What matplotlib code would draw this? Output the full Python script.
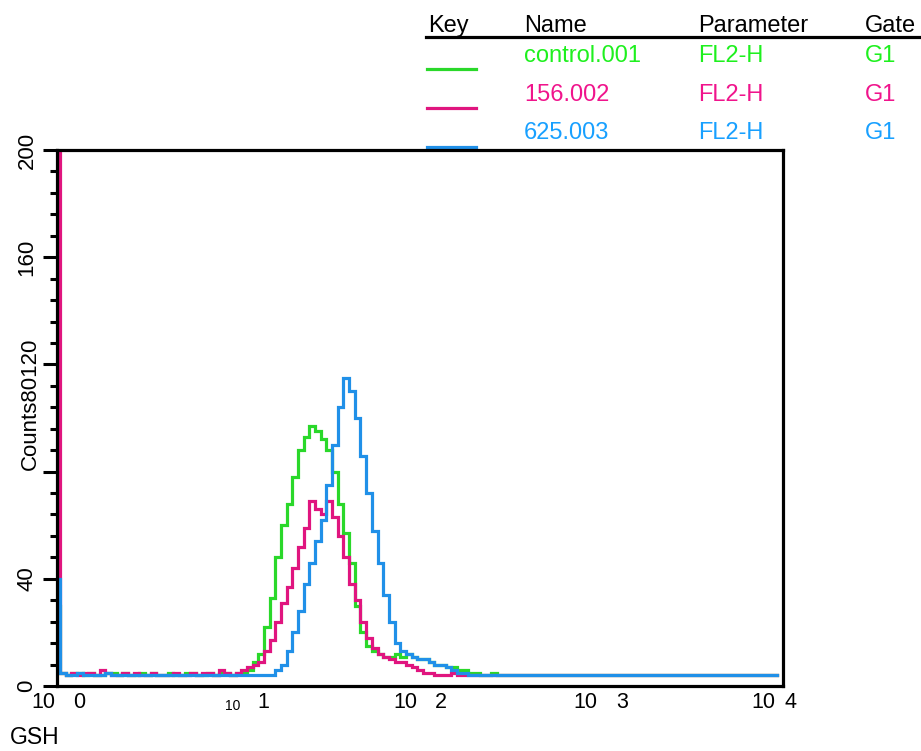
import numpy as np
import matplotlib
matplotlib.use("Agg")
import matplotlib.pyplot as plt
from matplotlib import transforms
from matplotlib.ticker import MultipleLocator, NullLocator, FixedLocator

plt.rcParams["font.family"] = ["Liberation Sans", "DejaVu Sans"]

# ---- data: 128 log-spaced channels over 10^0 .. 10^4 ----
n_channels = 128
decades = 4

control_001 = [
    30, 5, 4, 5, 5, 4, 5, 4, 4, 5, 5, 4, 5, 4, 4, 5,
    4, 5, 4, 4, 5, 4, 4, 5, 5, 4, 4, 5, 4, 5, 5, 4,
    5, 5, 6, 9, 12, 22, 33, 48, 60, 68, 78, 88, 93, 97, 95, 92,
    88, 80, 68, 57, 46, 30, 20, 15, 13, 12, 11, 11, 12, 11, 12, 11,
    10, 10, 9, 8, 8, 7, 7, 6, 6, 5, 5, 4, 4, 5, 4, 4,
    4, 4, 4, 4, 4, 4, 4, 4, 4, 4, 4, 4, 4, 4, 4, 4,
    4, 4, 4, 4, 4, 4, 4, 4, 4, 4, 4, 4, 4, 4, 4, 4,
    4, 4, 4, 4, 4, 4, 4, 4, 4, 4, 4, 4, 4, 4, 4, 4,
]
sample_156_002 = [
    250, 5, 4, 5, 4, 5, 5, 4, 6, 5, 4, 4, 5, 4, 5, 4,
    4, 5, 4, 4, 4, 5, 4, 4, 5, 4, 5, 5, 4, 6, 5, 4,
    5, 6, 7, 8, 9, 13, 17, 24, 31, 37, 44, 52, 59, 69, 66, 64,
    69, 63, 56, 48, 38, 32, 24, 18, 14, 12, 11, 10, 9, 9, 8, 7,
    6, 5, 5, 4, 4, 4, 5, 4, 4, 4, 4, 4, 4, 4, 4, 4,
    4, 4, 4, 4, 4, 4, 4, 4, 4, 4, 4, 4, 4, 4, 4, 4,
    4, 4, 4, 4, 4, 4, 4, 4, 4, 4, 4, 4, 4, 4, 4, 4,
    4, 4, 4, 4, 4, 4, 4, 4, 4, 4, 4, 4, 4, 4, 4, 4,
]
sample_625_003 = [
    40, 5, 4, 4, 5, 4, 4, 4, 4, 5, 4, 4, 4, 4, 4, 4,
    4, 4, 4, 4, 4, 4, 4, 4, 4, 4, 4, 4, 4, 4, 4, 4,
    4, 4, 4, 4, 4, 4, 4, 6, 8, 13, 20, 28, 38, 46, 54, 62,
    75, 90, 104, 115, 110, 100, 86, 72, 58, 46, 34, 24, 16, 13, 12, 11,
    10, 10, 9, 8, 8, 7, 6, 5, 5, 4, 4, 4, 4, 4, 4, 4,
    4, 4, 4, 4, 4, 4, 4, 4, 4, 4, 4, 4, 4, 4, 4, 4,
    4, 4, 4, 4, 4, 4, 4, 4, 4, 4, 4, 4, 4, 4, 4, 4,
    4, 4, 4, 4, 4, 4, 4, 4, 4, 4, 4, 4, 4, 4, 4, 4,
]

names = ["control.001", "156.002", "625.003"]
parameters = ["FL2-H", "FL2-H", "FL2-H"]
gates = ["G1", "G1", "G1"]
series = [control_001, sample_156_002, sample_625_003]
line_colors = ["#2ad82a", "#e0157f", "#2090e8"]
text_colors = ["#1ef01e", "#f0148c", "#18a0ff"]

y_ticks = [0, 40, 80, 120, 160, 200]
y_tick_labels = ["0", "40", "", "", "160", "200"]

# ---- figure ----
W, H = 921, 751
fig = plt.figure(figsize=(W / 100, H / 100), dpi=100)


def fx(px):
    return px / W


def fy(py):
    return 1 - py / H


ax = fig.add_axes([fx(57), fy(686), fx(783) - fx(57), fy(150) - fy(686)])

for counts, col in zip(series, line_colors):
    counts = np.asarray(counts, dtype=float)
    x = 10 ** (np.arange(len(counts)) * decades / n_channels)
    ax.plot(x, counts, drawstyle="steps-mid", color=col, lw=2.3,
            solid_joinstyle="miter")

ax.set_xscale("log")
ax.set_xlim(1, 10 ** decades)
ax.set_ylim(0, 200)
ax.xaxis.set_major_locator(NullLocator())
ax.xaxis.set_minor_locator(NullLocator())

ax.yaxis.set_major_locator(FixedLocator(y_ticks))
ax.set_yticklabels(y_tick_labels, rotation=90, va="center", fontsize=16)
ax.yaxis.set_minor_locator(MultipleLocator(8))
ax.tick_params(axis="y", which="major", direction="out", length=10, width=2.2, pad=4)
ax.tick_params(axis="y", which="minor", direction="out", length=5, width=2.2)
for sp in ax.spines.values():
    sp.set_linewidth(2.3)

ax.set_facecolor("white")

# y-axis title
fig.text(fx(30), fy(338), "Counts80120", rotation=90, ha="center", va="top",
         fontsize=16)

# decade labels along the bottom axis
base = transforms.blended_transform_factory(ax.transData, ax.transAxes)
decade_label_offsets = [(-13.5, 22), (-6, 24.5), (-15, 21), (-16.5, 21), (-19.5, 7.5)]
for k, (d_ten, d_exp) in enumerate(decade_label_offsets):
    small = (k == 1)
    t1 = transforms.offset_copy(base, fig=fig, x=d_ten, y=-17 if not small else -20, units="dots")
    t2 = transforms.offset_copy(base, fig=fig, x=d_exp, y=-17, units="dots")
    ax.text(10 ** k, 0, "10", transform=t1, ha="center", va="center",
            fontsize=10 if small else 15.5, clip_on=False)
    ax.text(10 ** k, 0, str(k), transform=t2, ha="center", va="center",
            fontsize=15.5, clip_on=False)

fig.text(fx(10), fy(738), "GSH", ha="left", va="center", fontsize=16.5)

# key table
header_y = 32
fs_key = 17
fig.text(fx(428), fy(header_y), "Key", fontsize=fs_key, va="baseline")
fig.text(fx(524), fy(header_y), "Name", fontsize=fs_key, va="baseline")
fig.text(fx(698), fy(header_y), "Parameter", fontsize=fs_key, va="baseline")
fig.text(fx(865), fy(header_y), "Gate", fontsize=fs_key, va="baseline")
fig.add_artist(plt.Line2D([fx(426), fx(921)], [fy(37), fy(37)], color="black",
                          lw=2.3, transform=fig.transFigure))

row_baselines = [62, 101, 139]
sample_line_y = [69, 108, 147]
for i in range(len(names)):
    c = text_colors[i]
    fig.text(fx(524), fy(row_baselines[i]), names[i], color=c, fontsize=fs_key, va="baseline")
    fig.text(fx(698), fy(row_baselines[i]), parameters[i], color=c, fontsize=fs_key, va="baseline")
    fig.text(fx(865), fy(row_baselines[i]), gates[i], color=c, fontsize=fs_key, va="baseline")
    fig.add_artist(plt.Line2D([fx(427), fx(476)], [fy(sample_line_y[i])] * 2,
                              color=line_colors[i], lw=2.3, transform=fig.transFigure,
                              zorder=0))

fig.savefig("out.png", dpi=100, facecolor="white")
